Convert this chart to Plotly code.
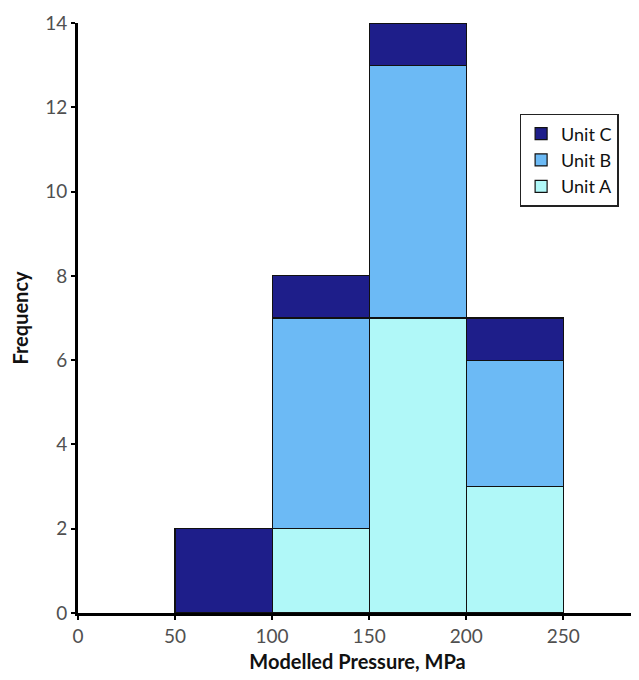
import plotly.graph_objects as go

bin_left = [50, 100, 150, 200]
bin_width = 50
unit_a = [0, 2, 7, 3]
unit_b = [0, 5, 6, 3]
unit_c = [2, 1, 1, 1]
x_ticks = [0, 50, 100, 150, 200, 250]
y_ticks = [0, 2, 4, 6, 8, 10, 12, 14]

centers = [b + bin_width / 2 for b in bin_left]

fig = go.Figure()
for name, vals, color in [("Unit A", unit_a, "#b0f8f8"),
                          ("Unit B", unit_b, "#6cbaf5"),
                          ("Unit C", unit_c, "#1e1e8a")]:
    fig.add_trace(go.Bar(x=centers, y=vals, width=bin_width, name=name,
                         marker=dict(color=color, line=dict(color="#111", width=1.2))))

fig.update_layout(
    barmode="stack",
    width=639, height=680,
    margin=dict(l=70, r=10, t=15, b=75),
    plot_bgcolor="white", paper_bgcolor="white",
    font=dict(family="Lato, Open Sans, sans-serif", size=19, color="#505050"),
    legend=dict(x=0.79, y=0.846, xanchor="left", yanchor="top",
                traceorder="reversed", bordercolor="#222", borderwidth=1.5,
                font=dict(size=18, color="#111"), bgcolor="white",
                itemwidth=30, tracegroupgap=0),
    xaxis=dict(range=[0, 288], tickvals=x_ticks, showline=True, linecolor="black",
               linewidth=3, ticks="outside", ticklen=4, tickwidth=2, tickcolor="black",
               showgrid=False, zeroline=False, automargin=False,
               title=dict(text="<b>Modelled Pressure, MPa</b>", font=dict(size=20, color="#111"), standoff=10)),
    yaxis=dict(range=[0, 14], tickvals=y_ticks, showline=True, linecolor="black",
               linewidth=3, ticks="outside", ticklen=4, tickwidth=2, tickcolor="black",
               showgrid=False, zeroline=False, automargin=False,
               title=dict(text="<b>Frequency</b>", font=dict(size=20, color="#111"), standoff=12)),
)
fig.write_html("out.html")
